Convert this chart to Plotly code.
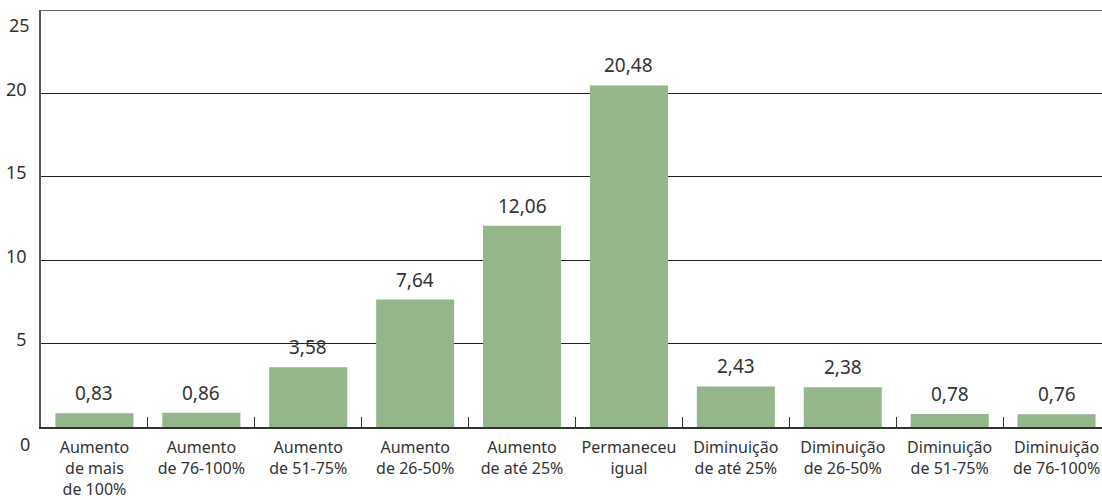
import plotly.graph_objects as go

categories = [
    "Aumento<br>de mais<br>de 100%",
    "Aumento<br>de 76-100%",
    "Aumento<br>de 51-75%",
    "Aumento<br>de 26-50%",
    "Aumento<br>de até 25%",
    "Permaneceu<br>igual",
    "Diminuição<br>de até 25%",
    "Diminuição<br>de 26-50%",
    "Diminuição<br>de 51-75%",
    "Diminuição<br>de 76-100%",
]
values = [0.83, 0.86, 3.58, 7.64, 12.06, 20.48, 2.43, 2.38, 0.78, 0.76]
y_ticks = [0, 5, 10, 15, 20, 25]

labels = [f"{v:.2f}".replace(".", ",") for v in values]
FONT = "Noto Sans"
TXT = "#333333"
BAR = "#94b68a"

fig = go.Figure()
fig.add_trace(go.Bar(
    x=categories, y=values, marker=dict(color=BAR, line=dict(width=0)),
    width=0.73, hoverinfo="skip",
))

for c, v, t in zip(categories, values, labels):
    fig.add_annotation(x=c, y=v, text=t, showarrow=False, yanchor="bottom",
                       yshift=5, font=dict(family=FONT, size=19, color=TXT))

# y labels for 0 and 25 (offset like reference)
fig.add_annotation(x=0, xref="paper", y=0, yref="y", text="0", showarrow=False,
                   xanchor="right", xshift=-9, yshift=-17,
                   font=dict(family=FONT, size=18, color=TXT))
fig.add_annotation(x=0, xref="paper", y=25, yref="y", text="25", showarrow=False,
                   xanchor="right", xshift=-9, yshift=-15,
                   font=dict(family=FONT, size=18, color=TXT))

# top border line at 25
fig.add_shape(type="line", xref="paper", x0=0, x1=1, yref="y", y0=25, y1=25,
              line=dict(color="#666666", width=2))

fig.update_layout(
    width=1102, height=500,
    margin=dict(l=41, r=0, t=10, b=70),
    plot_bgcolor="white", paper_bgcolor="white",
    showlegend=False, bargap=0.27,
    font=dict(family=FONT, color=TXT),
)
fig.update_xaxes(
    type="category", range=[-0.5, 9.425],
    showline=True, linecolor="#333333", linewidth=1.5,
    ticks="inside", tickson="boundaries", ticklen=10, tickcolor="#333333", tickwidth=1,
    tickfont=dict(family=FONT, size=16, color=TXT),
    ticklabelstandoff=5,
    showgrid=False,
)
fig.update_yaxes(
    range=[0, 25], tickvals=y_ticks,
    ticktext=["" if v in (0, 25) else str(v) for v in y_ticks],
    showline=True, linecolor="#555555", linewidth=1.5,
    showgrid=True, gridcolor="#222222", gridwidth=1,
    zeroline=False, ticks="", ticklabelshift=-4, ticklabelstandoff=9,
    tickfont=dict(family=FONT, size=18, color=TXT),
)

fig.write_html("out.html", config={"displayModeBar": False},
               post_script="document.body.style.margin='0';")
